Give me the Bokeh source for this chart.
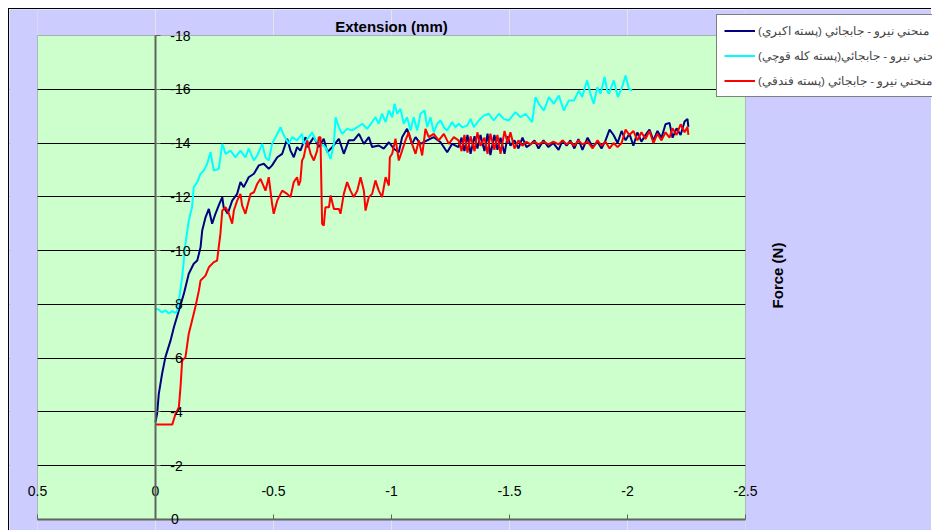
from bokeh.plotting import figure
from bokeh.models import (Range1d, LinearAxis, FixedTicker, Legend, LegendItem, Grid,
                          PrintfTickFormatter, Label, BoxAnnotation)
from bokeh.embed import file_html
from bokeh.resources import INLINE

# ---------------- data (extension in mm, force in N; both negative as in the source) -------------
x_ticks = [0.5, 0, -0.5, -1, -1.5, -2, -2.5]
y_ticks = [0, -2, -4, -6, -8, -10, -12, -14, -16, -18]
grid_ticks = [-2, -4, -6, -8, -10, -12, -14, -16]
# y tick labels padded with figure/punctuation spaces so right-aligned labels start together
y_tick_labels = {0: "0\u2007\u2008", -2: "-2\u2007", -4: "-4\u2007", -6: "-6\u2007",
                 -8: "-8\u2007", -10: "-10", -12: "-12", -14: "-14", -16: "-16", -18: "-18"}

x_title = "Extension (mm)"
y_title = "Force (N)"

labels = [
    "\u200fمنحني نيرو - جابجائي (پسته اكبري)\u200f",
    "\u200fمنحني نيرو - جابجائي(پسته كله قوچي)\u200f",
    "\u200fمنحني نيرو - جابجائي (پسته فندقي)\u200f",
]

akbari = [
    (0.000, -3.62), (-0.007, -3.94), (-0.014, -4.67), (-0.028, -5.42), (-0.042, -6.04),
    (-0.064, -6.66), (-0.078, -7.15), (-0.099, -7.77), (-0.120, -8.39), (-0.141, -9.14),
    (-0.162, -9.51), (-0.177, -9.63), (-0.191, -10.13), (-0.198, -10.75), (-0.212, -11.24),
    (-0.226, -11.55), (-0.240, -11.00), (-0.254, -11.37), (-0.268, -11.68), (-0.283, -11.99),
    (-0.289, -11.61), (-0.306, -11.37), (-0.325, -11.86), (-0.346, -12.11), (-0.360, -12.55),
    (-0.374, -12.36), (-0.395, -12.73), (-0.417, -12.86), (-0.438, -13.17), (-0.459, -13.23),
    (-0.480, -13.04), (-0.494, -13.17), (-0.516, -13.47), (-0.537, -13.60), (-0.558, -14.16),
    (-0.572, -13.72), (-0.586, -13.47), (-0.600, -13.85), (-0.614, -13.72), (-0.636, -14.22),
    (-0.643, -13.85), (-0.671, -14.22), (-0.692, -13.85), (-0.713, -14.16), (-0.728, -13.66),
    (-0.749, -13.85), (-0.777, -14.16), (-0.798, -13.60), (-0.819, -14.10), (-0.840, -14.10),
    (-0.862, -14.34), (-0.883, -13.97), (-0.904, -14.22), (-0.918, -13.85), (-0.946, -13.91),
    (-0.967, -13.79), (-0.989, -14.03), (-1.010, -13.79), (-1.031, -13.66), (-1.045, -14.22),
    (-1.066, -14.53), (-1.087, -13.97), (-1.102, -14.22), (-1.123, -13.97), (-1.151, -14.10),
    (-1.179, -14.22), (-1.208, -14.03), (-1.236, -13.66), (-1.257, -13.97),
    (-1.284, -13.85), (-1.297, -14.20), (-1.309, -13.70), (-1.322, -14.30), (-1.335, -13.60),
    (-1.352, -14.25), (-1.364, -13.80), (-1.377, -14.30), (-1.394, -13.70), (-1.407, -14.35),
    (-1.419, -13.55), (-1.436, -14.30), (-1.449, -13.75), (-1.462, -14.20), (-1.479, -13.60),
    (-1.492, -14.25), (-1.504, -13.90), (-1.521, -14.10), (-1.538, -13.80), (-1.555, -14.20),
    (-1.572, -13.85), (-1.589, -13.95), (-1.606, -14.10), (-1.623, -13.80), (-1.644, -14.10),
    (-1.665, -13.85), (-1.686, -14.00), (-1.708, -13.75), (-1.725, -14.10), (-1.742, -13.90),
    (-1.758, -14.10), (-1.775, -13.80), (-1.792, -14.15), (-1.809, -13.75), (-1.831, -14.20),
    (-1.852, -13.85), (-1.873, -14.05), (-1.890, -13.80), (-1.907, -14.10), (-1.924, -14.50),
    (-1.941, -14.30), (-1.958, -14.00), (-1.975, -14.45), (-1.992, -14.10), (-2.008, -14.35),
    (-2.025, -13.90), (-2.042, -14.40), (-2.059, -14.05), (-2.076, -14.30), (-2.093, -14.50),
    (-2.110, -14.10), (-2.127, -14.45), (-2.144, -14.20), (-2.161, -14.70), (-2.178, -14.75),
    (-2.191, -14.20), (-2.208, -14.55), (-2.225, -14.30), (-2.242, -14.80), (-2.254, -14.90),
    (-2.258, -14.60),
]

kalleghouchi = [
    (0.000, -7.85), (-0.014, -7.80), (-0.028, -7.70), (-0.042, -7.78), (-0.056, -7.66),
    (-0.071, -7.75), (-0.085, -7.68), (-0.092, -7.77), (-0.099, -8.14), (-0.113, -9.01),
    (-0.120, -9.63), (-0.127, -10.25), (-0.141, -11.12), (-0.148, -11.37), (-0.155, -11.61),
    (-0.162, -12.36), (-0.177, -12.55), (-0.191, -12.86), (-0.205, -12.98), (-0.219, -13.23),
    (-0.233, -13.66), (-0.247, -12.98), (-0.268, -13.04), (-0.283, -13.97), (-0.297, -13.60),
    (-0.318, -13.72), (-0.339, -13.47), (-0.360, -13.72), (-0.381, -13.47), (-0.395, -13.79),
    (-0.417, -13.35), (-0.431, -13.54), (-0.452, -13.97), (-0.466, -13.47), (-0.480, -13.35),
    (-0.494, -13.97), (-0.516, -14.34), (-0.530, -14.59), (-0.544, -14.28), (-0.565, -13.97),
    (-0.579, -14.22), (-0.600, -14.10), (-0.621, -14.34), (-0.628, -13.97), (-0.650, -14.22),
    (-0.664, -14.40), (-0.678, -14.10), (-0.699, -13.97), (-0.720, -13.85), (-0.742, -13.41),
    (-0.756, -13.97), (-0.763, -14.96), (-0.777, -14.59), (-0.791, -14.34), (-0.812, -14.53),
    (-0.833, -14.47), (-0.855, -14.59), (-0.876, -14.72), (-0.897, -14.53), (-0.918, -14.78),
    (-0.932, -14.96), (-0.946, -14.72), (-0.960, -15.09), (-0.975, -14.78), (-0.989, -15.21),
    (-1.003, -14.96), (-1.013, -15.46), (-1.024, -15.09), (-1.038, -15.27), (-1.052, -14.72),
    (-1.066, -14.96), (-1.081, -14.47), (-1.094, -14.96), (-1.109, -14.47), (-1.123, -15.09),
    (-1.140, -15.21), (-1.151, -14.59), (-1.165, -14.96), (-1.179, -14.40), (-1.194, -14.72),
    (-1.208, -14.84), (-1.222, -14.59), (-1.236, -14.47), (-1.257, -14.78), (-1.271, -14.59),
    (-1.285, -14.72), (-1.300, -14.59), (-1.321, -14.65), (-1.335, -14.90), (-1.349, -14.59),
    (-1.370, -14.84), (-1.391, -15.02), (-1.412, -15.09), (-1.433, -14.84), (-1.455, -15.09),
    (-1.476, -14.90), (-1.497, -14.84), (-1.525, -15.15), (-1.547, -14.96), (-1.568, -15.09),
    (-1.596, -14.78), (-1.610, -15.71), (-1.624, -15.46), (-1.646, -15.21), (-1.667, -15.71),
    (-1.688, -15.46), (-1.709, -15.77), (-1.730, -15.21), (-1.751, -15.58), (-1.773, -15.58),
    (-1.794, -15.95), (-1.808, -15.71), (-1.829, -16.33), (-1.843, -15.83), (-1.857, -15.46),
    (-1.872, -16.08), (-1.886, -15.83), (-1.903, -16.46), (-1.914, -15.95), (-1.921, -15.83),
    (-1.942, -16.33), (-1.959, -15.71), (-1.977, -16.08), (-1.992, -16.51), (-2.006, -16.02),
    (-2.020, -15.95),
]

fandoghi = [
    (0.000, -3.53), (-0.071, -3.53), (-0.085, -3.93), (-0.099, -4.18), (-0.106, -4.92),
    (-0.113, -5.91), (-0.127, -6.04), (-0.141, -6.91), (-0.155, -7.40), (-0.169, -7.90),
    (-0.184, -8.52), (-0.191, -8.89), (-0.212, -9.07), (-0.226, -9.38), (-0.247, -9.57),
    (-0.261, -9.63), (-0.268, -10.13), (-0.275, -10.62), (-0.283, -11.49), (-0.297, -11.61),
    (-0.311, -11.37), (-0.325, -11.00), (-0.332, -11.49), (-0.346, -11.86), (-0.360, -12.11),
    (-0.367, -11.68), (-0.381, -11.37), (-0.388, -11.61), (-0.403, -12.11), (-0.417, -12.17),
    (-0.431, -12.48), (-0.445, -12.67), (-0.466, -12.23), (-0.480, -12.73), (-0.494, -11.74),
    (-0.501, -11.37), (-0.516, -11.86), (-0.537, -12.23), (-0.558, -12.11), (-0.572, -11.99),
    (-0.586, -12.55), (-0.600, -12.73), (-0.607, -12.42), (-0.614, -12.60), (-0.621, -13.35),
    (-0.628, -13.47), (-0.643, -14.10), (-0.657, -13.60), (-0.671, -13.35), (-0.685, -13.72),
    (-0.692, -14.22), (-0.699, -14.22), (-0.706, -11.00), (-0.713, -10.93), (-0.720, -11.61),
    (-0.735, -11.61), (-0.742, -12.05), (-0.756, -11.55), (-0.777, -11.55), (-0.784, -11.37),
    (-0.798, -12.11), (-0.812, -12.55), (-0.826, -12.23), (-0.840, -11.99), (-0.855, -12.23),
    (-0.869, -12.73), (-0.883, -12.23), (-0.890, -11.49), (-0.904, -11.99), (-0.918, -12.11),
    (-0.932, -12.61), (-0.946, -12.23), (-0.960, -11.99), (-0.975, -12.73), (-0.989, -12.42),
    (-0.993, -13.47), (-1.003, -13.60), (-1.017, -14.16), (-1.031, -13.35), (-1.045, -13.72),
    (-1.059, -14.10), (-1.073, -14.40), (-1.087, -13.97), (-1.102, -13.60), (-1.116, -14.10),
    (-1.130, -13.54), (-1.144, -14.53), (-1.158, -14.22), (-1.179, -14.34), (-1.200, -14.10),
    (-1.222, -14.34), (-1.243, -13.97), (-1.264, -14.22),
    (-1.284, -14.10), (-1.297, -13.70), (-1.309, -14.30), (-1.322, -13.65), (-1.335, -14.25),
    (-1.352, -13.70), (-1.364, -14.40), (-1.377, -13.90), (-1.394, -14.20), (-1.407, -13.60),
    (-1.419, -14.35), (-1.436, -13.75), (-1.449, -14.30), (-1.462, -13.60), (-1.479, -14.45),
    (-1.492, -14.00), (-1.504, -14.40), (-1.521, -13.80), (-1.538, -14.10), (-1.555, -13.90),
    (-1.572, -14.05), (-1.589, -13.95), (-1.606, -14.05), (-1.623, -13.95), (-1.644, -14.05),
    (-1.665, -13.95), (-1.686, -14.05), (-1.708, -13.95), (-1.725, -14.10), (-1.742, -13.95),
    (-1.758, -14.05), (-1.775, -13.90), (-1.792, -14.10), (-1.809, -13.95), (-1.831, -14.05),
    (-1.852, -13.80), (-1.873, -14.10), (-1.890, -13.90), (-1.907, -14.05), (-1.924, -13.80),
    (-1.941, -14.00), (-1.958, -13.85), (-1.975, -14.00), (-1.992, -14.50), (-2.008, -14.30),
    (-2.025, -14.45), (-2.042, -14.10), (-2.059, -14.40), (-2.076, -14.15), (-2.093, -14.45),
    (-2.110, -14.00), (-2.127, -14.35), (-2.144, -14.10), (-2.161, -14.40), (-2.178, -14.20),
    (-2.191, -14.55), (-2.208, -14.30), (-2.225, -14.70), (-2.242, -14.40), (-2.254, -14.60),
    (-2.258, -14.30),
]

colors = ["#000080", "#00FFFF", "#FF0000"]
series = [akbari, kalleghouchi, fandoghi]

FONT = "Liberation Sans"
AXIS_GREY = "#5E665E"
GREEN = "#CCFFCC"
LAVENDER = "#CCCCFF"

# the frame covers the whole chart canvas; the green plot area is a box inside it
p = figure(width=923, height=522,
           x_range=Range1d(0.6186, -3.2924), y_range=Range1d(0.4463, -18.967),
           output_backend="svg", toolbar_location=None,
           x_axis_location=None, y_axis_location=None,
           min_border_left=0, min_border_right=0, min_border_top=0, min_border_bottom=0,
           background_fill_color=LAVENDER, border_fill_color=LAVENDER)
p.styles = {"margin-left": "8px", "margin-top": "8px",
            "border-top": "1px solid #000000", "border-left": "1px solid #000000"}
p.outline_line_color = None

p.add_layout(BoxAnnotation(left=x_ticks[0], right=x_ticks[-1], bottom=y_ticks[0], top=y_ticks[-1],
                           fill_color=GREEN, fill_alpha=1.0, line_color="#808080", line_width=1,
                           level="underlay"))
p.add_layout(Grid(dimension=1, ticker=FixedTicker(ticks=grid_ticks),
                  grid_line_color="#000000", grid_line_width=1, level="underlay"))
# lavender strips left and right of the plot area (hide grid lines there)
p.add_layout(BoxAnnotation(left=x_ticks[-1], fill_color=LAVENDER, fill_alpha=1.0,
                           line_color=None, level="underlay"))
p.add_layout(BoxAnnotation(right=x_ticks[0], fill_color=LAVENDER, fill_alpha=1.0,
                           line_color=None, level="underlay"))
# restore the grey outline of the plot area on top of the strips
p.add_layout(BoxAnnotation(left=x_ticks[0], right=x_ticks[-1], bottom=y_ticks[0], top=y_ticks[-1],
                           fill_alpha=0.0, line_color="#808080", line_width=1, level="underlay"))

# x axis along y = 0, labels lifted inside the plot area
xaxis = LinearAxis(fixed_location=0, ticker=FixedTicker(ticks=x_ticks),
                   formatter=PrintfTickFormatter(format="%g"),
                   bounds=(x_ticks[-1], x_ticks[0]),
                   major_tick_in=5, major_tick_out=0, minor_tick_in=0, minor_tick_out=0,
                   major_label_standoff=-33, axis_line_color=AXIS_GREY, axis_line_width=2,
                   major_tick_line_color=AXIS_GREY, major_tick_line_width=1,
                   major_label_text_font=FONT, major_label_text_font_size="14px",
                   major_label_text_color="#000000")
p.add_layout(xaxis, "below")

# y axis crossing at x = 0, labels to its right
yaxis = LinearAxis(fixed_location=0, ticker=FixedTicker(ticks=y_ticks),
                   major_label_overrides=y_tick_labels,
                   bounds=(y_ticks[-1], y_ticks[0]),
                   major_tick_in=5, major_tick_out=0, minor_tick_in=0, minor_tick_out=0,
                   major_label_standoff=-35, axis_line_color=AXIS_GREY, axis_line_width=2,
                   major_tick_line_color=AXIS_GREY, major_tick_line_width=1,
                   major_label_text_font=FONT, major_label_text_font_size="14px",
                   major_label_text_color="#000000")
p.add_layout(yaxis, "left")

renderers = []
for data, c in zip(series, colors):
    xs = [d[0] for d in data]
    ys = [d[1] for d in data]
    renderers.append(p.line(xs, ys, line_color=c, line_width=2))

legend = Legend(items=[LegendItem(label=lab, renderers=[r]) for lab, r in zip(labels, renderers)],
                location=(707, 434), orientation="vertical",
                background_fill_color="#FFFFFF", background_fill_alpha=1.0,
                border_line_color="#000000", border_line_width=1,
                label_text_font=FONT, label_text_font_size="11.5px",
                glyph_width=31, glyph_height=17, label_height=17, label_standoff=3,
                spacing=8, padding=7, margin=0)
p.add_layout(legend)

# axis titles (positions in screen pixels from the frame's bottom-left)
p.add_layout(Label(x=382, y=505.5, x_units="screen", y_units="screen", text=x_title,
                   text_align="center", text_baseline="middle",
                   text_font=FONT, text_font_size="15px", text_font_style="bold",
                   text_color="#000000"))
p.add_layout(Label(x=767.5, y=256, x_units="screen", y_units="screen", text=y_title,
                   angle=90, angle_units="deg", text_align="center", text_baseline="middle",
                   text_font=FONT, text_font_size="15px", text_font_style="bold",
                   text_color="#000000"))

open("out.html", "w").write(file_html(p, INLINE))
